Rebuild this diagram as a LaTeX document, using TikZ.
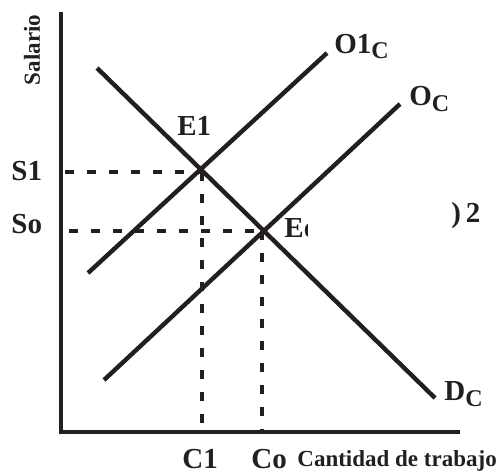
\documentclass[tikz,border=0pt]{standalone}
\usepackage{fontspec}
\setmainfont{Liberation Serif}
\usepackage{tikz}
\usetikzlibrary{positioning, calc}
\definecolor{inkblack}{RGB}{35, 31, 32}

\newcommand{\subc}{\raisebox{-0.45ex}{\fontsize{12}{13}\selectfont C}}

\begin{document}
\begin{tikzpicture}[x=0.5pt, y=-0.5pt,
        curve/.style={line width=2.2pt, inkblack},
        guide/.style={line width=2.2pt, inkblack, dash pattern=on 4.5pt off 6.5pt},
        lab/.style={inkblack, font=\fontsize{14.5}{16}\selectfont\bfseries, inner sep=0pt, anchor=base west},
        smalllab/.style={inkblack, font=\fontsize{11.5}{13}\selectfont\bfseries, inner sep=0pt}]
        \useasboundingbox (0,0) rectangle (496,473);

        % Points
        \coordinate (ytop) at (61,12);
        \coordinate (orig) at (61,432);
        \coordinate (xend) at (460,432);
        \coordinate (E1) at (202,172);
        \coordinate (E0) at (262,231);

        % Axes
        \draw[line width=2.2pt, inkblack] (ytop) -- (orig) -- (xend);

        % Curves
        \coordinate (Dstart) at (97,68);
        \coordinate (Dend) at (435,398);
        \coordinate (Ostart) at (104,380);
        \coordinate (Oend) at (400,104);
        \coordinate (O1start) at (88,273);
        \coordinate (O1end) at (327,53);
        \draw[curve] (Dstart) -- (Dend);
        \draw[curve] (Ostart) -- (Oend);
        \draw[curve] (O1start) -- (O1end);

        % Dashed guides
        \draw[guide] (65,172) -- (E1);
        \draw[guide] (69,231) -- (E0);
        \draw[guide] (E1) -- (E1 |- orig);
        \draw[guide] (E0) -- (E0 |- orig);

        % Labels
        \node[smalllab, rotate=90] (salario) at (32,50) {Salario};
        \node[lab] (s1) at (11,180) {S1};
        \node[lab] (s0) at (11,233) {So};
        \node[lab] (e1) at (177,135) {E1};
        \begin{scope}
            \clip (280,200) rectangle (307,260);
            \node[lab] (e0) at (284,237) {Eo};
        \end{scope}
        \node[lab] (frag) at (451,222) {)\,2};
        \node[lab] (o1c) at (334,53) {O1\subc};
        \node[lab] (oc) at (409,105) {O\subc};
        \node[lab] (dc) at (444,400) {D\subc};
        \node[lab] (c1) at (182,468) {C1};
        \node[lab] (c0) at (251,468) {Co};
        \node[smalllab, anchor=base west] (xlab) at (297,466) {Cantidad de trabajo};
    \end{tikzpicture}
\end{document}
